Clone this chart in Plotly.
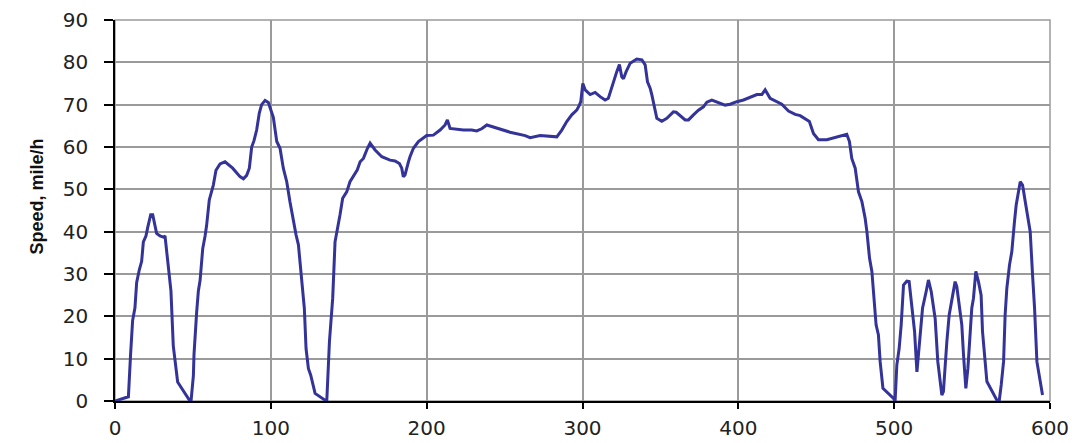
import plotly.graph_objects as go

time_s = [0, 8.6, 10, 11.3, 12.8, 13.9, 15.6, 17.1, 18.2, 19.9, 21, 22.9, 24.2, 26.7, 28.9, 31, 32.1, 33.6, 35.3,
          35.9, 37.4, 39.2, 40.2, 48.1, 48.8, 50.3, 50.7, 52.4, 53.5, 54.6, 56.3, 57.8, 58.8, 60.5, 62.1, 63.1,
          64.8, 67.4, 70.6, 73.8, 75.5, 80.2, 82.4, 84.5, 86.2, 87.7, 89.2, 90.9, 92.6, 94.1, 96.3, 98.4,
          101.6, 103.8, 105.9, 108, 110.2, 112.3, 113.4, 116.2, 117.7, 119.2, 120.9, 121.5, 122.6, 124.1,
          125.6, 128.4, 134.8, 135.9, 137.6, 138.6, 139.7, 141.2, 143.3, 144.4, 146.1, 148.7, 150.8, 154,
          155.5, 157.3, 159.4, 162, 163.7, 166.9, 171.2, 176.5, 179.7, 182.5, 184, 185, 186.1, 188.3, 189.3,
          191.5, 194.7, 200, 204.3, 208.6, 211.8, 213.3, 215, 223.6, 228.9, 232.1, 235.3, 238.6, 249.2,
          253.5, 263.2, 266.4, 272.8, 281.3, 283.5, 286.7, 289.9, 293.1, 296.3, 298, 298.9, 300.2, 301.7,
          304.9, 308.1, 311.3, 314.5, 316.6, 318.8, 320.3, 322, 323.7, 325.2, 326.3, 328, 330.6, 334.8,
          338.1, 340.2, 341.7, 343.4, 344.5, 347.7, 350.9, 354.1, 358.3, 360.1, 365.9, 368, 371.2, 374.4,
          377.6, 379.8, 383, 388.3, 391.5, 394.7, 399, 403.3, 407.6, 411.9, 415.1, 417.2, 420.4, 424.7,
          427.9, 432.2, 436.5, 439.7, 444, 445.6, 448.2, 451.4, 456.8, 463.2, 467.5, 469.6, 471.3, 472.8,
          475, 477.1, 479.3, 481.4, 482.5, 484.2, 485.7, 486.7, 488.4, 489.9, 491, 492.8, 499.6, 500.6,
          501.7, 503.2, 504.5, 506, 508.1, 509.6, 510.9, 511.8, 513.1, 514.6, 515.6, 516.7, 518.2, 520.5,
          522, 523.8, 525.2, 526.3, 528, 530.6, 531.6, 532.7, 533.8, 535.3, 537, 539.1, 540.2, 541.7,
          543.4, 544.5, 546, 547.3, 548.8, 549.8, 550.9, 552.4, 554.1, 555.8, 556.7, 558.4, 559.5, 565.9,
          567.4, 568.7, 570.2, 571.2, 572.3, 574, 575.5, 577.2, 578.3, 580.9, 582.4, 584.1, 585.9, 587.3,
          588.8, 590.1, 591.6, 593.7, 595.2]

speed_mph = [0, 1, 11, 19, 22, 28, 31, 33, 37.6, 39, 41, 44, 44, 39.6, 39, 38.7, 39, 33.5, 29,
             26, 13, 7, 4.5, 0, 0, 6, 11, 21, 26, 28.5, 36, 39, 41.5, 47.5, 49.5, 51,
             54.5, 56, 56.5, 55.5, 55, 53, 52.5, 53.3, 55, 60, 61.5, 64, 68, 70, 71, 70.5, 67,
             61.3, 59.7, 55, 51.8, 47, 44.7, 39.2, 36.9, 31.3, 25.8, 21.9, 12.4, 7.7, 6.1,
             1.8, 0.2, 0, 14, 20.3, 24.3, 37.6, 41.6, 44, 47.9, 49.4, 51.8, 53.8, 54.6,
             56.5, 57.3, 59.7, 60.9, 59.3, 57.7, 56.9, 56.7, 56.1, 55, 53, 53.4, 56.5, 57.7, 59.7,
             61.3, 62.7, 62.8, 64, 65.2, 66.4, 64.4, 64, 64, 63.8, 64.3, 65.2, 64, 63.5,
             62.7, 62.2, 62.7, 62.4, 62.4, 64, 66, 67.6, 68.7, 69.9, 70.7, 75, 73.5, 72.4,
             72.9, 71.9, 71.1, 71.5, 74.3, 75.8, 77.8, 79.5, 76.6, 76.1, 77.8, 79.8, 80.8, 80.6,
             79.4, 75.4, 73.9, 72.3, 66.8, 66.1, 66.8, 68.3, 68.2, 66.4, 66.4, 67.6, 68.7, 69.5,
             70.6, 71.1, 70.3, 69.9, 70.1, 70.7, 71.1, 71.7, 72.4, 72.4, 73.5, 71.5, 70.6, 70.1,
             68.5, 67.7, 67.4, 66.4, 66, 63.2, 61.7, 61.7, 62.4, 62.8, 63, 61.3, 57.3, 55,
             49.4, 47.1, 43.1, 40, 33.7, 30.6, 26.6, 18, 15.6, 9.3, 3, 0.6, 0, 8.5,
             12.4, 18, 27.4, 28.3, 28.2, 23.5, 20.3, 16.4, 6.9, 11.7, 15.6, 21.9, 25.8, 28.6,
             25.8, 21.9, 19.5, 9.3, 1.4, 2.2, 8.5, 14, 20.3, 23.5, 28.2, 27, 22.7, 18,
             10.9, 3, 7.7, 18, 21.9, 24.3, 30.6, 28.2, 25, 16.4, 8.5, 4.6, 0.2, 0,
             3.8, 9.3, 20.3, 26.6, 32.1, 35.3, 42.4, 46.3, 51.8, 51, 47.1, 43.1, 40, 29.8,
             21.9, 9.3, 4.6, 1.4, 0]

x_ticks = [0, 100, 200, 300, 400, 500, 600]
y_ticks = [0, 10, 20, 30, 40, 50, 60, 70, 80, 90]
y_title = "Speed, mile/h"

fig = go.Figure()
fig.add_trace(go.Scatter(
    x=time_s, y=speed_mph, mode="lines",
    line=dict(color="#333399", width=3),
    showlegend=False, hoverinfo="x+y",
))

tickfont = dict(family="DejaVu Sans", size=20, color="#222222")

fig.update_layout(
    width=1072, height=443,
    margin=dict(l=115, r=22, t=20, b=42, autoexpand=False),
    paper_bgcolor="white", plot_bgcolor="white",
    xaxis=dict(
        range=[0, 600], tickvals=x_ticks, ticktext=[str(v) for v in x_ticks],
        showgrid=True, gridcolor="#9a9a9a", gridwidth=1.5,
        showline=True, linecolor="black", linewidth=1.5,
        ticks="outside", ticklen=6, tickcolor="black", tickwidth=1.5,
        tickfont=tickfont, zeroline=False, ticklabelstandoff=2, automargin=False,
    ),
    yaxis=dict(
        range=[0, 90], tickvals=y_ticks, ticktext=[str(v) for v in y_ticks],
        showgrid=True, gridcolor="#9a9a9a", gridwidth=1.5,
        showline=True, linecolor="black", linewidth=1.5,
        ticks="outside", ticklen=9, tickcolor="black", tickwidth=1.5,
        tickfont=tickfont, zeroline=False, ticklabelstandoff=12, automargin=False,
    ),
    shapes=[dict(type="rect", xref="paper", yref="paper", x0=0, x1=1, y0=0, y1=1,
                 line=dict(color="#9a9a9a", width=1.5), layer="below")],
    annotations=[dict(text="<b>" + y_title + "</b>", xref="paper", yref="paper",
                      x=-0.083, y=0.538, textangle=-90, showarrow=False,
                      font=dict(family="Liberation Sans", size=18, color="#111111"),
                      xanchor="center", yanchor="middle")],
)

fig.write_html("out.html")
